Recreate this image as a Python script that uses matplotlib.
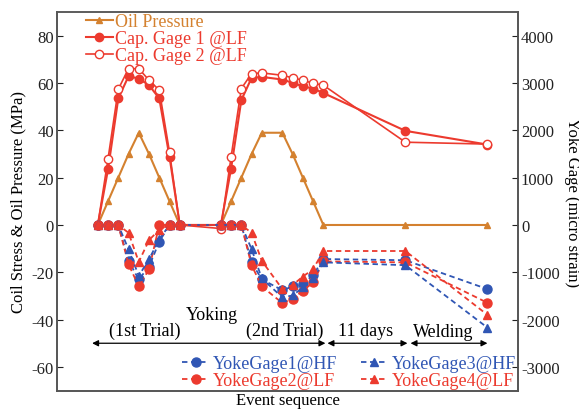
import numpy as np
import matplotlib
matplotlib.use("Agg")
import matplotlib.pyplot as plt

plt.rcParams["font.family"] = ["Liberation Serif", "DejaVu Serif"]
plt.rcParams["font.size"] = 12
plt.rcParams["axes.unicode_minus"] = False

# event positions (index along the event sequence)
x = [4, 5, 6, 7, 8, 9, 10, 11, 12,
     16, 17, 18, 19, 20, 22, 23, 24, 25, 26,
     34, 42]

# MPa
oil = [0, 10, 20, 30, 39, 30, 20, 10, 0,
       0, 10, 20, 30, 39, 39, 30, 20, 10, 0,
       0, 0]
cap1 = [0, 23.5, 53.5, 62.9, 61.9, 59.1, 53.5, 28.7, 0,
        0, 23.8, 52.8, 62.2, 62.6, 61.5, 60.1, 58.6, 57.7, 55.8,
        39.8, 34.0]
cap2 = [0, 27.9, 57.4, 66.1, 66.1, 61.2, 57.0, 30.7, 0,
        -1.5, 28.7, 57.7, 64.0, 64.3, 63.3, 62.2, 61.2, 59.9, 59.1,
        35.0, 34.2]

# micro strain
yoke1 = [0, 0, 0, -760, -1150, -880, -350, 0, 0,
         0, 0, 0, -790, -1150, -1380, -1300, -1250, -1060, -720,
         -745, -1355]
yoke2 = [0, 0, 0, -830, -1300, -935, 0, 0, 0,
         0, 0, 0, -850, -1300, -1650, -1560, -1390, -1215, -770,
         -790, -1645]
yoke3 = [0, 0, 0, -515, -1075, -725, -300, 0, 0,
         0, 0, 0, -510, -1130, -1530, -1490, -1320, -1130, -790,
         -850, -2170]
yoke4 = [0, 0, 0, -165, -780, -320, -100, 0, 0,
         0, 0, 0, -165, -760, -1355, -1270, -1090, -935, -550,
         -550, -1900]

c_oil = "#D4812F"
c_red = "#EC3A2E"
c_blue = "#3056B4"

fig = plt.figure(figsize=(5.79, 4.10), dpi=100)
ax = fig.add_axes([0.098, 0.045, 0.797, 0.923])
ax2 = ax.twinx()

l1, = ax.plot(x, oil, color=c_oil, marker="^", ms=5, lw=1.5, label="Oil Pressure")
l2, = ax.plot(x, cap1, color=c_red, marker="o", ms=6, lw=1.5, label="Cap. Gage 1 @LF")
l3, = ax.plot(x, cap2, color=c_red, marker="o", ms=6, lw=1.2, mfc="white",
              mew=1.0, label="Cap. Gage 2 @LF")

ds = (0, (3, 2))
y1, = ax2.plot(x, yoke1, color=c_blue, marker="o", ms=6.5, lw=1.3, ls=ds, label="YokeGage1@HF")
y2, = ax2.plot(x, yoke2, color=c_red, marker="o", ms=6.5, lw=1.3, ls=ds, label="YokeGage2@LF")
y3, = ax2.plot(x, yoke3, color=c_blue, marker="^", ms=6, lw=1.3, ls=ds, label="YokeGage3@HF")
y4, = ax2.plot(x, yoke4, color=c_red, marker="^", ms=6, lw=1.3, ls=ds, label="YokeGage4@LF")

ax.set_xlim(0, 45)
ax.set_ylim(-70, 90)
ax.set_yticks(np.arange(-60, 81, 20))
ax.set_xticks([])
ax2.set_ylim(-3500, 4500)
ax2.set_yticks(np.arange(-3000, 4001, 1000))

for a in (ax, ax2):
    a.tick_params(direction="in", length=4, pad=2, labelsize=12, colors="#222")
    for s in a.spines.values():
        s.set_color("#555")
        s.set_linewidth(1.2)
ax.spines["top"].set_color("#888")

ax.set_ylabel("Coil Stress & Oil Pressure (MPa)", fontsize=12, labelpad=4)
ax2.set_ylabel("Yoke Gage (micro strain)", fontsize=12, rotation=270, va="center")
ax2.yaxis.set_label_coords(1.116, 0.5)
ax.set_xlabel("Event sequence", fontsize=12, labelpad=1)

# phase annotations
ax.text(15.1, -38, "Yoking", ha="center", va="center", fontsize=13)
ax.text(8.6, -44.6, "(1st Trial)", ha="center", va="center", fontsize=13)
ax.text(22.2, -44.6, "(2nd Trial)", ha="center", va="center", fontsize=13)
ax.text(30.1, -44.6, "11 days", ha="center", va="center", fontsize=13)
ax.text(37.7, -45.2, "Welding", ha="center", va="center", fontsize=13)
ap = dict(arrowstyle="<|-|>", color="black", lw=0.9, mutation_scale=9, shrinkA=0, shrinkB=0)
ax.annotate("", xy=(3.45, -50), xytext=(26.2, -50), arrowprops=ap)
ax.annotate("", xy=(26.4, -50), xytext=(34.2, -50), arrowprops=ap)
ax.annotate("", xy=(34.5, -50), xytext=(42.0, -50), arrowprops=ap)

leg1 = ax.legend(handles=[l1, l2, l3], loc="upper left", bbox_to_anchor=(0.035, 1.03),
                 frameon=False, fontsize=13, handlelength=1.5, handletextpad=0.15,
                 labelspacing=0.0, borderpad=0.2)
for t, c in zip(leg1.get_texts(), [c_oil, c_red, c_red]):
    t.set_color(c)

leg2 = ax2.legend(handles=[y1, y2, y3, y4], loc="lower right", bbox_to_anchor=(1.022, -0.03),
                  ncol=2, frameon=False, fontsize=13, handlelength=1.5, handletextpad=0.2,
                  labelspacing=0.0, columnspacing=1.3, borderpad=0.2)
for t, c in zip(leg2.get_texts(), [c_blue, c_red, c_blue, c_red]):
    t.set_color(c)

fig.savefig("out.png", dpi=100)
